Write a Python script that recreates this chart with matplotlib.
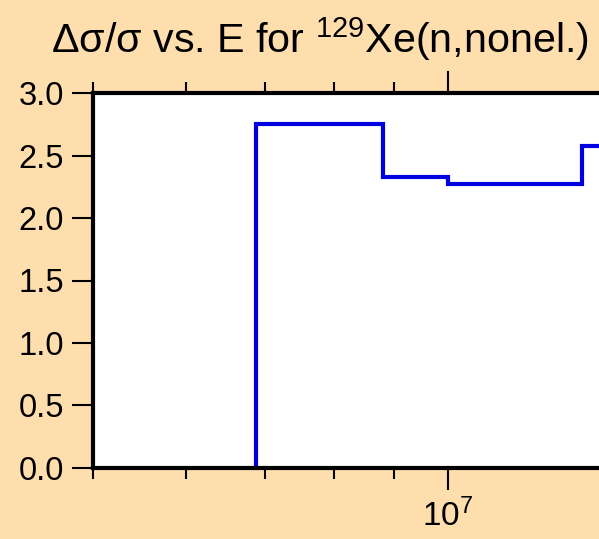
import numpy as np
import matplotlib
matplotlib.use('Agg')
import matplotlib.pyplot as plt
from matplotlib.ticker import LogLocator, NullFormatter, FixedLocator

plt.rcParams['font.family'] = ['Liberation Sans', 'DejaVu Sans']
plt.rcParams['mathtext.fontset'] = 'custom'
plt.rcParams['mathtext.rm'] = 'Liberation Sans'
plt.rcParams['mathtext.it'] = 'Liberation Sans'

# bin edges (eV) and relative uncertainty per bin
edges = [6.88e6, 7.79e6, 8.82e6, 1.0e7, 1.10e7, 1.20e7, 1.30e7, 1.40e7]
rel_unc = [2.756, 2.756, 2.327, 2.276, 2.276, 2.276, 2.581]

bg = '#FFDEAD'
fig = plt.figure(figsize=(5.99, 5.39), dpi=100, facecolor=bg)

# axes runs past the right edge of the picture
px_per_dec = 1177.0
x0, x1 = 5e6, 2e7
width_px = px_per_dec * np.log10(x1 / x0)
ax = fig.add_axes([93.3 / 599, (539 - 467.7) / 539, width_px / 599, 374.4 / 539])
ax.set_facecolor('white')

ax.stairs(rel_unc, edges, baseline=0, color='#0000E0', linewidth=3.0)

ax.set_xscale('log')
ax.set_xlim(x0, x1)
ax.set_ylim(0, 3.0)

ax.xaxis.set_major_locator(FixedLocator([1e7]))
ax.xaxis.set_major_formatter(matplotlib.ticker.LogFormatterMathtext())
ax.xaxis.set_minor_locator(LogLocator(base=10, subs=np.arange(2, 10)))
ax.xaxis.set_minor_formatter(NullFormatter())
ax.set_yticks([0, 0.5, 1.0, 1.5, 2.0, 2.5, 3.0])
ax.set_yticklabels(['0.0', '0.5', '1.0', '1.5', '2.0', '2.5', '3.0'])

for s in ax.spines.values():
    s.set_linewidth(3.0)

ax.tick_params(axis='x', which='major', direction='out', length=16, width=1.5,
               top=True, bottom=True, labelsize=24, pad=6)
ax.tick_params(axis='x', which='minor', direction='out', length=8, width=1.5,
               top=True, bottom=True)
ax.tick_params(axis='y', which='major', direction='out', length=15, width=1.5,
               left=True, right=True, labelsize=23.5, pad=6)

fig.text(51 / 599, (539 - 53) / 539,
         r'Δσ/σ vs. E for $^{\mathrm{129}}$Xe(n,nonel.)',
         fontsize=29.7, ha='left', va='baseline')

fig.savefig('out.png', dpi=100, facecolor=bg)
